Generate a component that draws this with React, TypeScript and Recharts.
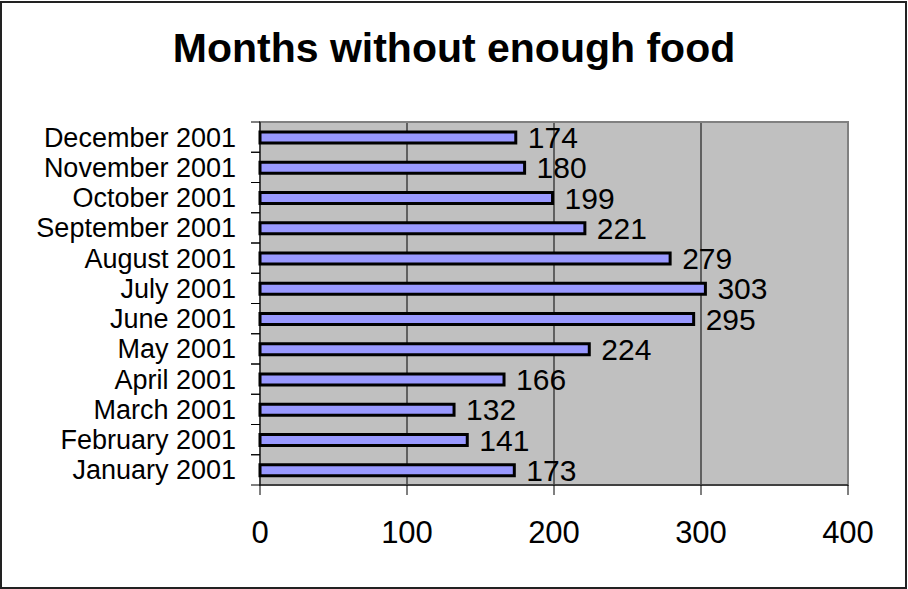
import { BarChart, Bar, XAxis, YAxis, CartesianGrid, LabelList, ReferenceArea } from 'recharts';

const months = [
  'January 2001',
  'February 2001',
  'March 2001',
  'April 2001',
  'May 2001',
  'June 2001',
  'July 2001',
  'August 2001',
  'September 2001',
  'October 2001',
  'November 2001',
  'December 2001',
];
const counts = [173, 141, 132, 166, 224, 295, 303, 279, 221, 199, 180, 174];
const xTicks = [0, 100, 200, 300, 400];

const data = months.map((month, i) => ({ month, value: counts[i] }));

const W = 908;
const H = 589;
const margin = { top: 122, right: 60, bottom: 44, left: 0 };
const X_AXIS_H = 60;
const band = (H - margin.top - margin.bottom - X_AXIS_H) / months.length;
const font = '"Liberation Sans", Arial, sans-serif';

const MonthTick = (props: any) => {
  const { x, y, payload } = props;
  return (
    <g>
      <line x1={x - 9} x2={x} y1={y - band / 2} y2={y - band / 2} stroke="#000" />
      <line x1={x - 9} x2={x} y1={y + band / 2} y2={y + band / 2} stroke="#000" />
      <text x={x - 24} y={y} dy="0.355em" textAnchor="end" fontSize={27} fontFamily={font} fill="#000">
        {payload.value}
      </text>
    </g>
  );
};

const App = () => {
  return (
    <div style={{ position: 'absolute', left: 0, top: 0, width: W, height: H, background: '#fff' }}>
      <div
        style={{
          position: 'absolute',
          left: 0,
          top: 1,
          width: 907,
          height: 588,
          boxSizing: 'border-box',
          border: '2px solid #222',
        }}
      />
      <BarChart
        width={W}
        height={H}
        data={data}
        layout="vertical"
        margin={margin}
        barSize={11}
        style={{ position: 'absolute', left: 0, top: 0 }}
      >
        <CartesianGrid horizontal={false} stroke="#000" fill="#C0C0C0" />
        <ReferenceArea x1={0} x2={400} fill="none" stroke="#808080" strokeWidth={2} />
        <XAxis
          type="number"
          domain={[0, 400]}
          ticks={xTicks}
          height={X_AXIS_H}
          tickSize={10}
          tickMargin={26}
          axisLine={{ stroke: '#000' }}
          tickLine={{ stroke: '#000' }}
          tick={{ fontSize: 31, fill: '#000', fontFamily: font }}
        />
        <YAxis
          type="category"
          dataKey="month"
          reversed
          width={260}
          tickSize={0}
          tickMargin={0}
          axisLine={{ stroke: '#000' }}
          tickLine={false}
          tick={<MonthTick />}
          interval={0}
        />
        <Bar dataKey="value" fill="#9999FF" stroke="#000" strokeWidth={3} isAnimationActive={false}>
          <LabelList
            dataKey="value"
            position="right"
            offset={12}
            fontSize={30}
            fill="#000"
            fontFamily={font}
          />
        </Bar>
      </BarChart>
      <svg width={W} height={H} style={{ position: 'absolute', left: 0, top: 0, pointerEvents: 'none' }}>
        <text x={454} y={62} textAnchor="middle" fontSize={41} fontWeight="bold" fontFamily={font} fill="#000">
          Months without enough food
        </text>
      </svg>
    </div>
  );
};

export default App;
